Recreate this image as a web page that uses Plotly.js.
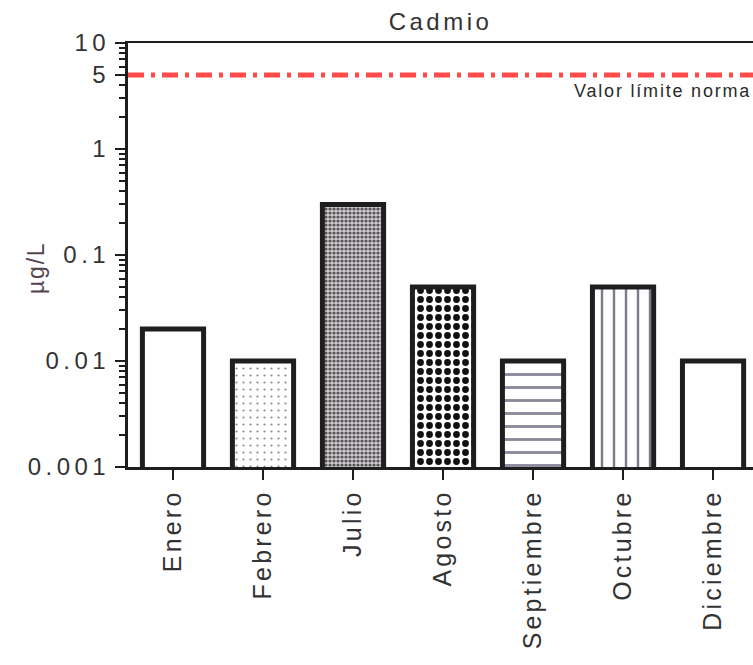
<!DOCTYPE html>
<html>
<head>
<meta charset="utf-8">
<script src="https://cdn.plot.ly/plotly-3.0.1.min.js"></script>
<style>
  html, body { margin: 0; padding: 0; background: #fff; }
  #chart { width: 753px; height: 665px; }
  .xtick text { letter-spacing: 3.2px; }
  .ytick text { letter-spacing: 4.5px; }
  .gtitle { letter-spacing: 3.5px; }
  .annotation-text { letter-spacing: 1.8px; }
</style>
</head>
<body>
<div id="chart"></div>
<script>
// ---- data ----
const months = ['Enero', 'Febrero', 'Julio', 'Agosto', 'Septiembre', 'Octubre', 'Diciembre'];
const cadmio = [0.02, 0.01, 0.3, 0.05, 0.01, 0.05, 0.01];
const limitValue = 5;
const limitLabel = 'Valor límite norma';
const chartTitle = 'Cadmio';
const yTitle = 'µg/L';
const yTickVals = [0.001, 0.01, 0.1, 1, 5, 10];
const yTickText = ['0.001', '0.01', '0.1', '1', '5', '10'];

// ---- styles (bar fill patterns) ----
const patShape = ['', '.', '.', '.', '-', '|', ''];
const patSize = [8, 7, 4, 9, 13, 12, 8];
const patSolidity = [0.3, 0.08, 0.5, 0.45, 0.22, 0.2, 0.3];
const patFg = ['#ffffff', '#8a8a8a', '#555555', '#111111', '#8a8a9a', '#7a7a8c', '#ffffff'];
const patBg = ['#ffffff', '#ffffff', '#d2cbd2', '#ffffff', '#ffffff', '#ffffff', '#ffffff'];

// minor ticks: 2..9 within every decade of the axis
const minorVals = [];
for (let d = -3; d <= 0; d++) {
  for (let k = 2; k <= 9; k++) minorVals.push(k * Math.pow(10, d));
}

const font = 'Liberation Sans, Arial, sans-serif';
const textColor = '#333333';

const trace = {
  type: 'bar',
  x: months,
  y: cadmio,
  width: 0.68,
  marker: {
    color: '#ffffff',
    line: { color: '#1e1e1e', width: 5 },
    pattern: {
      shape: patShape,
      size: patSize,
      solidity: patSolidity,
      fgcolor: patFg,
      bgcolor: patBg,
      fillmode: 'replace'
    }
  },
  hoverinfo: 'x+y'
};

const layout = {
  width: 753,
  height: 665,
  margin: { l: 128, r: 0, t: 43, b: 198 },
  paper_bgcolor: '#ffffff',
  plot_bgcolor: '#ffffff',
  showlegend: false,
  font: { family: font, color: textColor },
  title: {
    text: chartTitle,
    font: { family: font, size: 24, color: textColor },
    x: 0.5, xref: 'paper',
    y: 1 - 22 / 665, yref: 'container', yanchor: 'middle'
  },
  xaxis: {
    type: 'category',
    range: [-0.5, 6.444],
    showline: true,
    mirror: true,
    linecolor: '#1e1e1e',
    linewidth: 2.5,
    ticks: 'outside',
    ticklen: 10,
    tickwidth: 2,
    tickcolor: '#1e1e1e',
    tickangle: -90,
    tickfont: { family: font, size: 25, color: textColor },
    showgrid: false,
    zeroline: false,
    automargin: false
  },
  yaxis: {
    type: 'log',
    range: [-3, 1],
    showline: true,
    mirror: false,
    linecolor: '#1e1e1e',
    linewidth: 3,
    ticks: 'outside',
    ticklen: 10,
    tickwidth: 2,
    tickcolor: '#1e1e1e',
    tickmode: 'array',
    tickvals: yTickVals,
    ticktext: yTickText,
    tickfont: { family: font, size: 24, color: textColor },
    ticklabelstandoff: 0,
    minor: {
      ticks: 'outside',
      ticklen: 6,
      tickwidth: 2,
      tickcolor: '#1e1e1e',
      tickmode: 'array',
      tickvals: minorVals,
      showgrid: false
    },
    showgrid: false,
    zeroline: false,
    automargin: false
  },
  shapes: [{
    type: 'line',
    xref: 'paper', yref: 'y',
    x0: 0, x1: 1,
    y0: limitValue, y1: limitValue,
    line: { color: '#ff4a4a', width: 5, dash: '16px,7px,4px,7px' }
  }],
  annotations: [{
    xref: 'paper', yref: 'y',
    x: 1, y: Math.log10(limitValue),
    xanchor: 'right', yanchor: 'top',
    yshift: -4,
    showarrow: false,
    text: limitLabel,
    font: { family: font, size: 18, color: '#2a2a2a' }
  }, {
    // y-axis title
    xref: 'paper', yref: 'paper',
    x: (36 - 128) / 625, y: (467 - 268) / 424,
    xanchor: 'center', yanchor: 'middle',
    textangle: -90,
    showarrow: false,
    text: yTitle,
    font: { family: font, size: 23, color: '#54454f' }
  }]
};

Plotly.newPlot('chart', [trace], layout, { displayModeBar: false, staticPlot: true });
</script>
</body>
</html>
